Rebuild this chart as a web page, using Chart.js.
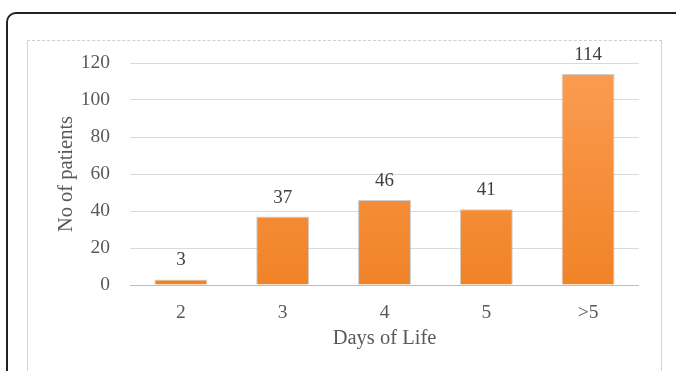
<!DOCTYPE html>
<html>
<head>
<meta charset="utf-8">
<script src="https://cdn.jsdelivr.net/npm/chart.js@4/dist/chart.umd.min.js"></script>
<style>
  body { margin: 0; background: #fff; width: 676px; height: 371px; overflow: hidden; position: relative; }
  #frame { position: absolute; left: 6px; top: 12px; width: 720px; height: 420px; border: 2px solid #222; border-radius: 10px; }
  #inner { position: absolute; left: 27px; top: 40px; width: 633px; height: 420px; border: 1px solid #d4d4d4; border-top: 1px dashed #cfcfcf; }
  #wrap { position: absolute; left: 28px; top: 41px; width: 632px; height: 312px; }
</style>
</head>
<body>
<div id="frame"></div>
<div id="inner"></div>
<div id="wrap"><canvas id="chart"></canvas></div>
<script>
// categories and values
const days = ['2', '3', '4', '5', '>5'];
const patients = [3, 37, 46, 41, 114];
const yTicks = [0, 20, 40, 60, 80, 100, 120];

const serif = "'Liberation Serif', 'Times New Roman', serif";

// value labels above bars
const valueLabels = {
  id: 'valueLabels',
  afterDatasetsDraw(chart) {
    const ctx = chart.ctx;
    const meta = chart.getDatasetMeta(0);
    ctx.save();
    ctx.font = '19px ' + serif;
    ctx.fillStyle = '#404040';
    ctx.textAlign = 'center';
    ctx.textBaseline = 'middle';
    meta.data.forEach((bar, i) => {
      ctx.fillText(String(patients[i]), bar.x, bar.y - 19);
    });
    ctx.restore();
  }
};

function barFill(context) {
  const area = context.chart.chartArea;
  if (!area) return '#f58d3c';
  const g = context.chart.ctx.createLinearGradient(0, area.top, 0, area.bottom);
  g.addColorStop(0, '#fc9c52');
  g.addColorStop(1, '#f08327');
  return g;
}

const ctx = document.getElementById('chart').getContext('2d');
new Chart(ctx, {
  type: 'bar',
  data: {
    labels: days,
    datasets: [{
      data: patients,
      backgroundColor: barFill,
      borderColor: 'rgba(165,165,165,0.55)',
      borderWidth: 1,
      barPercentage: 0.52,
      categoryPercentage: 1
    }]
  },
  options: {
    responsive: true,
    maintainAspectRatio: false,
    animation: false,
    layout: { padding: { top: 22, right: 21, left: 0, bottom: 0 } },
    plugins: { legend: { display: false }, tooltip: { enabled: false } },
    scales: {
      x: {
        afterFit(scale) { scale.height = 68; },
        grid: { display: false, drawTicks: false },
        border: { display: false },
        ticks: { color: '#595959', font: { family: serif, size: 19.5 }, padding: 16 },
        title: {
          display: true,
          text: 'Days of Life',
          color: '#595959',
          font: { family: serif, size: 20.5 },
          padding: { top: 0, bottom: 2 }
        }
      },
      y: {
        min: 0,
        max: 120,
        afterFit(scale) {
          scale.width = 102;
          scale.paddingTop = 0;
          scale.paddingBottom = 0;
        },
        afterBuildTicks(scale) { scale.ticks = yTicks.map(v => ({ value: v })); },
        grid: {
          drawTicks: false,
          color: c => c.tick && c.tick.value === 0 ? '#bdbdbd' : '#dadada',
          lineWidth: 1
        },
        border: { display: false },
        ticks: { color: '#595959', font: { family: serif, size: 19.5 }, padding: 20 },
        title: {
          display: true,
          text: 'No of patients',
          color: '#595959',
          font: { family: serif, size: 20.5 },
          padding: { top: 26, bottom: 0 }
        }
      }
    }
  },
  plugins: [valueLabels]
});
</script>
</body>
</html>
